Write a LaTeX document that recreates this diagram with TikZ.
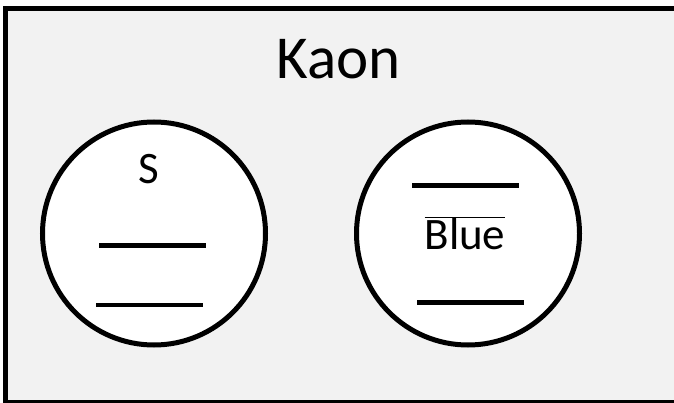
\documentclass[tikz,border=0pt]{standalone}
\usepackage{fontspec}
\setmainfont{Carlito}
\usepackage{tikz}

\begin{document}
\begin{tikzpicture}[x=1pt,y=-1pt,
        ball/.style={draw,circle,fill=white,line width=5pt,minimum size=223pt,inner sep=0pt},
        blank/.style={draw,line width=4.5pt},
        word/.style={anchor=base,inner sep=0pt}]
        \useasboundingbox (0,0) rectangle (674,403);
        \draw[line width=5pt,fill=black!5] (5.5,8.5) rectangle (676,402.5);

        \node[word,font=\fontsize{61}{61}\selectfont] (kaon) at (338.5,78.5) {Kaon};

        \node[ball] (quark) at (154,233.5) {};
        \node[ball] (anti) at (468,233.5) {};

        \node[word,font=\fontsize{45}{45}\selectfont] (s) at (149,184) {S};
        \node[word,font=\fontsize{45}{45}\selectfont] (blue) at (465,250) {$\overline{\mbox{Blue}}$};

        \foreach \a/\b/\y in {99/206/245.5,96/203/305,412/519/185.3,417/524/302.7}{
            \draw[blank] (\a,\y) -- (\b,\y);
        }
    \end{tikzpicture}
\end{document}
